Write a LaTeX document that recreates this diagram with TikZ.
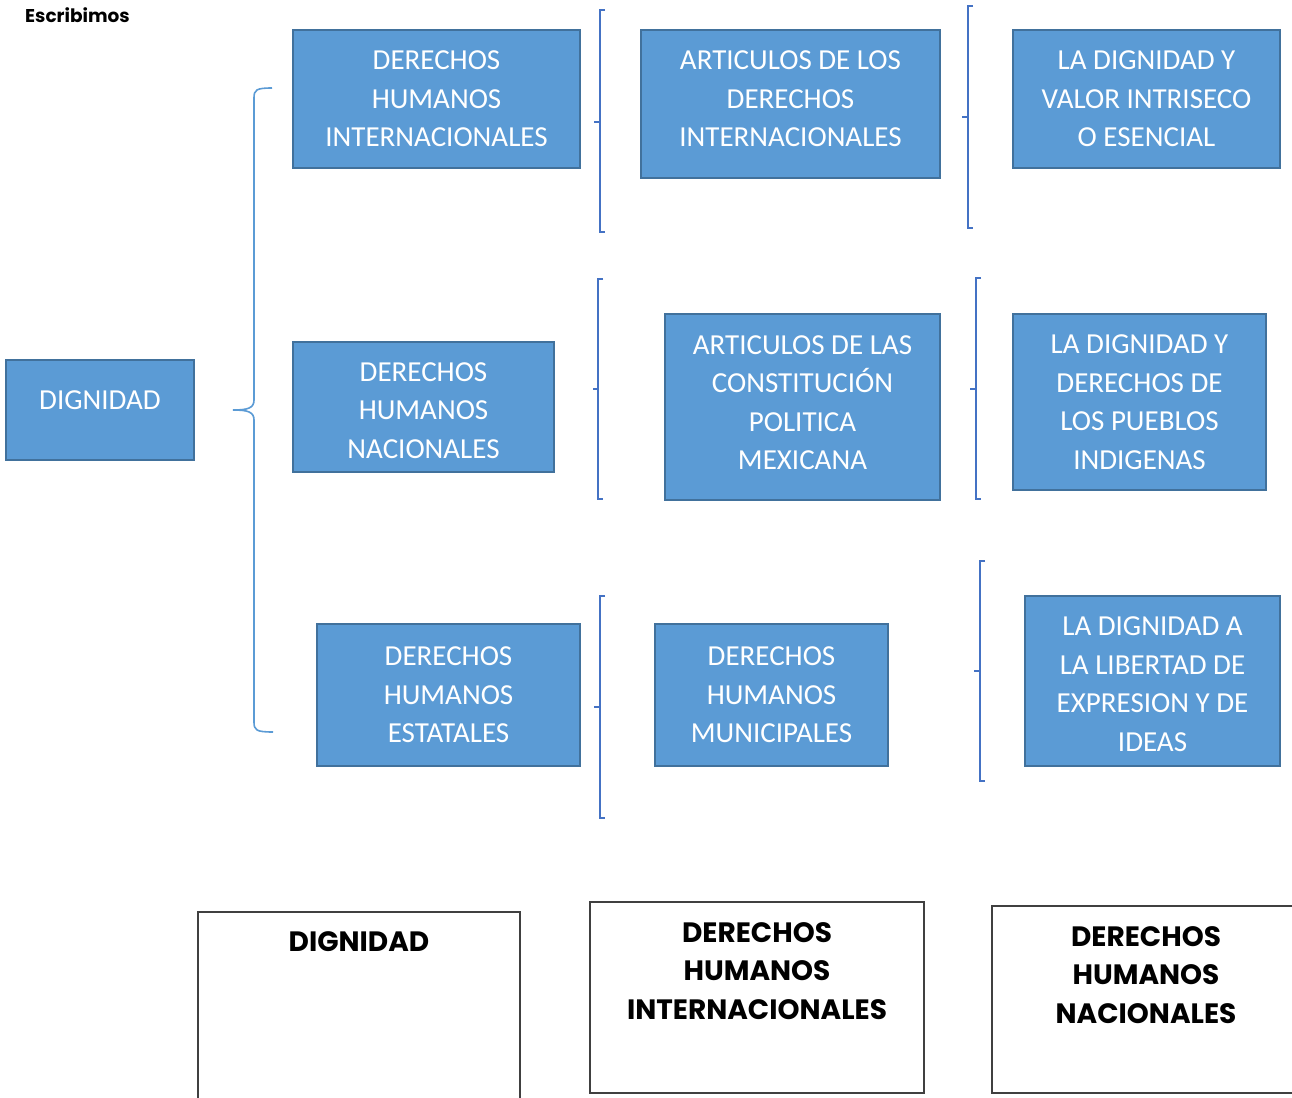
\documentclass[tikz,border=0pt]{standalone}
\usepackage{fontspec}
\setmainfont{Carlito}
\newfontfamily\headfont{Poppins}
\definecolor{boxfill}{HTML}{5B9BD5}
\definecolor{boxline}{HTML}{41719C}
\definecolor{bracebig}{HTML}{5B9BD5}
\definecolor{bracesmall}{HTML}{4472C4}
\definecolor{grayline}{HTML}{404040}
\tikzset{
  bluebox/.style={draw=boxline, line width=2.5pt, fill=boxfill, text=white,
    align=center, inner sep=0pt, font=\fontsize{29}{38.5}\selectfont},
  bluetext/.style={text=white, align=center, inner sep=0pt, font=\fontsize{29}{38.5}\selectfont},
  whitebox/.style={draw=grayline, line width=1.6pt, fill=white, inner sep=0pt},
  headtext/.style={align=center, inner sep=0pt, font=\headfont\bfseries\fontsize{28}{38.5}\selectfont},
  bracestyle/.style={draw=bracesmall, line width=1.4pt},
  bigbrace/.style={draw=bracebig, line width=1.6pt}
}
\begin{document}
\begin{tikzpicture}[x=1pt,y=-1pt]
\clip (0,0) rectangle (1292,1097);
\fill[white] (0,0) rectangle (1292,1097);

\node[anchor=west, inner sep=0pt, font=\headfont\bfseries\fontsize{18.5}{22}\selectfont] (title) at (25,15) {Escribimos};

% column 1
\node[bluebox, minimum width=188, minimum height=100, text depth=20pt] (dig) at (100,410) {DIGNIDAD};

% column 2
\node[bluebox, minimum width=287, minimum height=138] (dhi) at (436.5,99) {DERECHOS\\HUMANOS\\INTERNACIONALES};
\node[bluebox, minimum width=261, minimum height=130] (dhn) at (423.5,407) {};
\node[bluetext] (dhnt) at (423.5,410.5) {DERECHOS\\HUMANOS\\NACIONALES};
\node[bluebox, minimum width=263, minimum height=142] (dhe) at (448.5,695) {DERECHOS\\HUMANOS\\ESTATALES};

% column 3
\node[bluebox, minimum width=299, minimum height=148, text depth=10pt] (art1) at (790.5,104) {ARTICULOS DE LOS\\DERECHOS\\INTERNACIONALES};
\node[bluebox, minimum width=275, minimum height=186, text depth=9pt] (art2) at (802.5,407) {ARTICULOS DE LAS\\CONSTITUCIÓN\\POLITICA\\MEXICANA};
\node[bluebox, minimum width=233, minimum height=142] (dhm) at (771.5,695) {DERECHOS\\HUMANOS\\MUNICIPALES};

% column 4
\node[bluebox, minimum width=267, minimum height=138] (ld1) at (1146.5,99) {LA DIGNIDAD Y\\VALOR INTRISECO\\O ESENCIAL};
\node[bluebox, minimum width=253, minimum height=176] (ld2) at (1139.5,402) {LA DIGNIDAD Y\\DERECHOS DE\\LOS PUEBLOS\\INDIGENAS};
\node[bluebox, minimum width=255, minimum height=170] (ld3) at (1152.5,681) {};
\node[bluetext] (ld3t) at (1152.5,684) {LA DIGNIDAD A\\LA LIBERTAD DE\\EXPRESION Y DE\\IDEAS};

% big brace
\draw[bigbrace] (272,88) .. controls (256,88) and (254,90) .. (254,98)
  -- (254,400) .. controls (254,408) and (248,410) .. (233,410)
  .. controls (248,410) and (254,412) .. (254,420)
  -- (254,722) .. controls (254,730) and (256,732) .. (273,732);

% small braces
\draw[bracestyle] (605,10) -- (600,10) -- (600,232) -- (605,232);
\draw[bracestyle] (594,122) -- (600,122);
\draw[bracestyle] (603,279) -- (598,279) -- (598,499) -- (603,499);
\draw[bracestyle] (593,389) -- (598,389);
\draw[bracestyle] (605,596) -- (600,596) -- (600,818) -- (605,818);
\draw[bracestyle] (594,707) -- (600,707);

\draw[bracestyle] (973,6) -- (968,6) -- (968,228) -- (973,228);
\draw[bracestyle] (962,117) -- (968,117);
\draw[bracestyle] (981,278) -- (976,278) -- (976,499) -- (981,499);
\draw[bracestyle] (970,389) -- (976,389);
\draw[bracestyle] (985,561) -- (980,561) -- (980,781) -- (985,781);
\draw[bracestyle] (974,671) -- (980,671);

% bottom boxes
\node[whitebox, minimum width=322, minimum height=220] (b1) at (359,1022) {};
\node[headtext, anchor=north] (b1t) at (359,931) {DIGNIDAD};
\node[whitebox, minimum width=334, minimum height=191] (b2) at (757,997.5) {};
\node[headtext, anchor=north] (b2t) at (757,922) {DERECHOS\\HUMANOS\\INTERNACIONALES};
\node[whitebox, minimum width=330, minimum height=187] (b3) at (1157,999.5) {};
\node[headtext, anchor=north] (b3t) at (1146,926) {DERECHOS\\HUMANOS\\NACIONALES};
\end{tikzpicture}
\end{document}
